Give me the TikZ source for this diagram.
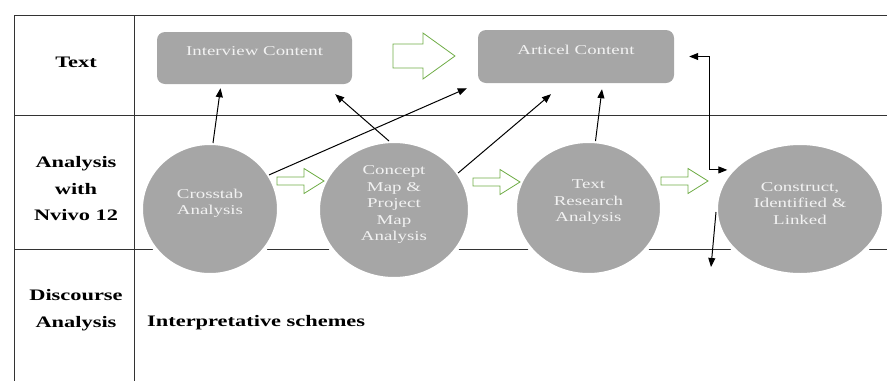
\documentclass[tikz,border=0pt]{standalone}
\usepackage{fontspec}
\setmainfont[FakeStretch=1.4]{Liberation Serif}
\usetikzlibrary{arrows.meta,shapes.geometric}
\definecolor{arrowgreen}{HTML}{70AD47}

\begin{document}
\begin{tikzpicture}[x=1pt,y=-1pt,
	grid/.style={line width=1pt,black!80},
	box/.style={fill=black!35,rounded corners=8pt,minimum width=195pt,minimum height=52pt,inner sep=0pt},
	disc/.style={ellipse,fill=black!35,draw=white,line width=4pt,outer sep=0pt,inner sep=0pt},
	intext/.style={text=white!95!black,font=\fontsize{13.5}{16.5}\selectfont,align=center,yshift=5.5pt},
	head/.style={font=\bfseries\fontsize{16}{26.5}\selectfont,align=center,inner sep=0pt},
	link/.style={-{Triangle[length=9pt,width=7pt]},line width=1pt},
	pics/hollow/.style n args={4}{code={
		\draw[arrowgreen,fill=white,line width=.8pt,line join=miter] (0,-#3)--({#1-#2},-#3)--({#1-#2},-#4)--(#1,0)
		--({#1-#2},#4)--({#1-#2},#3)--(0,#3)--cycle;
	}}]
	\useasboundingbox (0,0) rectangle (887,381);
	% table
	\draw[grid] (887,15)--(14,15)--(14,381);
	\draw[grid] (134,15)--(134,381);
	\draw[grid] (14,115)--(887,115);
	\draw[grid] (14,249)--(887,249);
	\node[head] (ltext) at (76,62) {Text};
	\node[head] (lnvivo) at (76,189) {Analysis\\with\\Nvivo 12};
	\node[head] (ldisc) at (76,310) {Discourse\\Analysis};
	\node[head,anchor=west] (scheme) at (147,323) {Interpretative schemes};
	% text row
	\node[box,label={[intext,yshift=1pt]center:Interview Content}] (iview) at (254.5,58) {};
	\node[box,minimum width=196pt,minimum height=53pt,label={[intext,yshift=1pt]center:Articel Content}] (article) at (576,56.5) {};
	\pic at (393,56) {hollow={62}{32}{12}{23}};
	% nvivo row
	\node[disc,minimum width=138pt,minimum height=132pt,label={[intext]center:Crosstab\\Analysis}] (cross) at (210,209) {};
	\node[disc,minimum width=152pt,minimum height=138pt,label={[intext]center:Concept\\Map \&\\Project\\Map\\Analysis}] (concept) at (394,210) {};
	\node[disc,minimum width=147pt,minimum height=134pt,label={[intext]center:Text\\Research\\Analysis}] (textres) at (588.5,208) {};
	\node[disc,minimum width=168pt,minimum height=132pt,label={[intext]center:Construct,\\Identified \&\\Linked}] (construct) at (800,209) {};
	\foreach \xx/\yy in {277/181,473/182,661/181}
	{
		\pic at (\xx,\yy) {hollow={47}{20}{4}{12.5}};
	}
	% links
	\draw[link] ([xshift=3pt]cross.north)--([xshift=-34pt,yshift=-4pt]iview.south);
	\draw[link] ([xshift=-5pt]concept.north)--([xshift=-17pt,yshift=-10pt]iview.south east);
	\draw[link] (cross.30)--([xshift=-11pt,yshift=-5pt]article.south west);
	\draw[link] (concept.30)--([xshift=-25pt,yshift=-11pt]article.south);
	\draw[link] ([xshift=7pt]textres.north)--([xshift=26pt,yshift=-6pt]article.south);
	\draw[link,{Triangle[length=9pt,width=7pt]}-{Triangle[length=9pt,width=7pt]},shorten >=5pt]
		([xshift=15pt]article.east)--++(20,0)|-(construct.150);
	\coordinate (drop) at (711,267);
	\draw[link] ([yshift=-3pt]construct.180)--(drop);
\end{tikzpicture}
\end{document}
